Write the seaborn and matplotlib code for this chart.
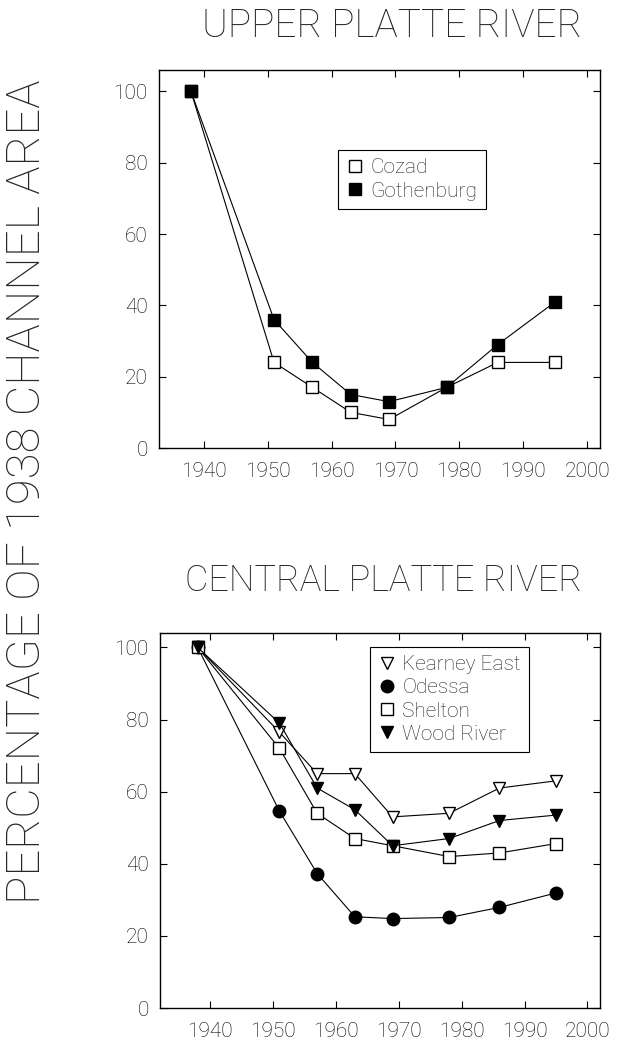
import matplotlib
matplotlib.use("Agg")
import matplotlib.pyplot as plt
import seaborn as sns
from matplotlib.lines import Line2D

# ---- data ----
years = [1938, 1951, 1957, 1963, 1969, 1978, 1986, 1995]
cozad = [100, 24, 17, 10, 8, 17, 24, 24]
gothenburg = [100, 36, 24, 15, 13, 17, 29, 41]
kearney_east = [100, 76.5, 65, 65, 53, 54, 61, 63]
odessa = [100, 54.6, 37.3, 25.3, 24.8, 25.1, 27.9, 31.9]
shelton = [100, 72, 54, 47, 45, 42, 43, 45.6]
wood_river = [100, 79, 61, 55, 45, 47, 52, 53.5]

x_ticks = [1940, 1950, 1960, 1970, 1980, 1990, 2000]
y_ticks = [0, 20, 40, 60, 80, 100]

upper_series = [("Cozad", cozad, "s", "white"),
                ("Gothenburg", gothenburg, "s", "black")]
central_series = [("Kearney East", kearney_east, "v", "white"),
                  ("Odessa", odessa, "o", "black"),
                  ("Shelton", shelton, "s", "white"),
                  ("Wood River", wood_river, "v", "black")]

sns.set_style("ticks")
plt.rcParams["font.family"] = ["Roboto", "DejaVu Sans"]
plt.rcParams["font.weight"] = "light"

fig = plt.figure(figsize=(6.42, 10.44), dpi=100)
ax1 = fig.add_axes([159/642, 1-448/1044, 441/642, 378/1044])
ax2 = fig.add_axes([160/642, 1-1008/1044, 440/642, 375/1044])


def draw(ax, series, xlim, ylim, leg_anchor, title, tsize, pad, tx):
    for name, vals, mk, fc in series:
        sns.lineplot(x=years, y=vals, ax=ax, color="black", linewidth=0.8,
                     marker=mk, markersize=9, markerfacecolor=fc,
                     markeredgecolor="black", markeredgewidth=1.0,
                     legend=False)
    ax.set_xlim(*xlim)
    ax.set_ylim(*ylim)
    ax.set_xticks(x_ticks)
    ax.set_yticks(y_ticks)
    ax.set_xlabel("")
    ax.set_ylabel("")
    ax.tick_params(direction="in", top=True, right=True, labeltop=False,
                   labelright=False, length=5, width=0.8, labelsize=15,
                   colors="black")
    ax.tick_params(axis="x", pad=10)
    ax.tick_params(axis="y", pad=8)
    for sp in ax.spines.values():
        sp.set_visible(True)
        sp.set_linewidth(1.0)
        sp.set_color("black")
    handles = [Line2D([], [], marker=mk, linestyle="none", markersize=9,
                      markerfacecolor=fc, markeredgecolor="black",
                      markeredgewidth=1.0) for _, _, mk, fc in series]
    labels = [name for name, _, _, _ in series]
    leg = ax.legend(handles, labels, loc="upper left", bbox_to_anchor=leg_anchor,
                    borderaxespad=0, frameon=True, fancybox=False,
                    edgecolor="black", framealpha=1, handlelength=0.8,
                    handletextpad=0.35, borderpad=0.4, labelspacing=0.2,
                    fontsize=15)
    leg.get_frame().set_linewidth(0.8)
    ax.set_title(title, fontsize=tsize, pad=pad, fontweight="light", x=tx)


draw(ax1, upper_series, (1933, 2002), (0, 106), (0.406, 0.788),
     "UPPER PLATTE RIVER", 28, 24, 0.528)
draw(ax2, central_series, (1932, 2002), (0, 104), (0.477, 0.963),
     "CENTRAL PLATTE RIVER", 26, 30, 0.507)

fig.text(27/642, 1-492/1044, "PERCENTAGE OF 1938 CHANNEL AREA", rotation=90,
         ha="center", va="center", fontsize=34, fontweight="light")

fig.savefig("out.png", dpi=100)
